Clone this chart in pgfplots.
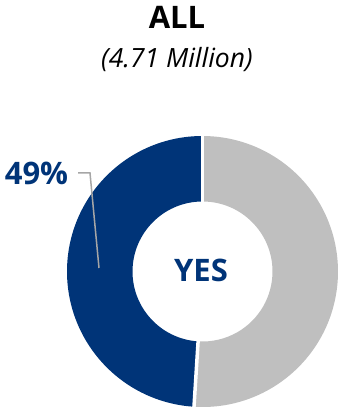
\documentclass[border=0pt]{standalone}
\usepackage{pgfplots}
\pgfplotsset{compat=1.18}
\usepackage{pgfplotstable}
\usepackage{fontspec}
\setmainfont{Open Sans}
\definecolor{navy}{HTML}{003478}
\definecolor{lgray}{HTML}{BFBFBF}
\definecolor{leader}{HTML}{A6A6A6}

\pgfplotstableread{
label share
Yes 49
No 51
}\slices

\begin{document}
\begin{tikzpicture}
\begin{axis}[hide axis, scale only axis, width=342bp, height=409bp,
  xmin=0, xmax=342, ymin=0, ymax=409, clip=false]
\pgfplotstablegetelem{0}{share}\of\slices
\pgfmathsetmacro{\aend}{90+3.6*\pgfplotsretval}
\coordinate (c) at (axis cs:202.5,137.5);
% Yes slice
\fill[navy] (c) ++(90:135.5bp) arc[start angle=90, end angle=\aend, radius=135.5bp]
  -- ++(\aend:-65.5bp) arc[start angle=\aend, end angle=90, radius=70bp] -- cycle;
% No slice
\fill[lgray] (c) ++(\aend:135.5bp) arc[start angle=\aend, end angle=450, radius=135.5bp]
  -- ++(90:-65.5bp) arc[start angle=450, end angle=\aend, radius=70bp] -- cycle;
% separators
\draw[white, line width=3.5bp] (c) ++(90:69bp) -- ++(90:67bp);
\draw[white, line width=3.5bp] (c) ++(\aend:69bp) -- ++(\aend:67bp);
% leader line
\draw[leader, line width=1.5bp] (axis cs:78,236) -- (axis cs:90,236) -- (axis cs:99,141);
% texts
\node[anchor=base, inner sep=0pt, font=\fontsize{31bp}{31bp}\selectfont\bfseries] at (axis cs:177,380) {ALL};
\node[anchor=base, inner sep=0pt, font=\fontsize{26.5bp}{26.5bp}\selectfont\itshape] at (axis cs:177,341) {(4.71 Million)};
\node[anchor=base, inner sep=0pt, text=navy, font=\fontsize{31bp}{31bp}\selectfont\bfseries] at (axis cs:36.5,224) {49\%};
\node[anchor=base, inner sep=0pt, text=navy, font=\fontsize{31bp}{31bp}\selectfont\bfseries] at (axis cs:201,127) {YES};
\end{axis}
\pgfresetboundingbox
\path (0,0) rectangle (342bp,409bp);
\end{tikzpicture}
\end{document}
